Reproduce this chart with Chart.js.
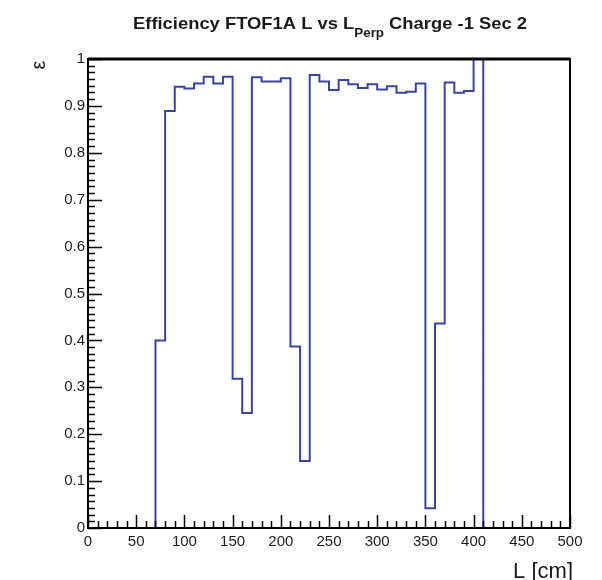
<!DOCTYPE html>
<html>
<head>
<meta charset="utf-8">
<script src="https://cdn.jsdelivr.net/npm/chart.js@4/dist/chart.umd.min.js"></script>
<style>
  html, body { margin: 0; padding: 0; background: #fff; }
  #wrap { width: 602px; height: 580px; position: relative; }
</style>
</head>
<body>
<div id="wrap"><canvas id="effChart"></canvas></div>
<script>
// histogram bin low edges (cm), last entry is the upper edge of the last bin
const binEdges = [
  0, 10, 20, 30, 40, 50, 60, 70, 80, 90,
  100, 110, 120, 130, 140, 150, 160, 170, 180, 190,
  200, 210, 220, 230, 240, 250, 260, 270, 280, 290,
  300, 310, 320, 330, 340, 350, 360, 370, 380, 390,
  400, 410, 420, 430, 440, 450, 460, 470, 480, 490,
  500
];

// efficiency per bin
const efficiency = [
  0, 0, 0, 0, 0, 0, 0, 0.400, 0.889, 0.941,
  0.937, 0.948, 0.962, 0.948, 0.962, 0.318, 0.245, 0.961, 0.952, 0.952,
  0.959, 0.387, 0.143, 0.966, 0.952, 0.934, 0.955, 0.946, 0.938, 0.946,
  0.935, 0.942, 0.928, 0.930, 0.948, 0.042, 0.436, 0.950, 0.928, 0.932,
  1.000, 0, 0, 0, 0, 0, 0, 0, 0, 0
];

const xTickValues = [0, 50, 100, 150, 200, 250, 300, 350, 400, 450, 500];
const xTickLabels = ["0", "50", "100", "150", "200", "250", "300", "350", "400", "450", "500"];
const yTickValues = [0, 0.1, 0.2, 0.3, 0.4, 0.5, 0.6, 0.7, 0.8, 0.9, 1];
const yTickLabels = ["0", "0.1", "0.2", "0.3", "0.4", "0.5", "0.6", "0.7", "0.8", "0.9", "1"];

const lineColor = "#3a43a0";
const textColor = "#1a1a1a";
const fontFamily = "'Liberation Sans', Arial, sans-serif";

const points = efficiency.map((v, i) => ({ x: binEdges[i], y: v }));
points.push({ x: binEdges[binEdges.length - 1], y: efficiency[efficiency.length - 1] });

// ROOT-like frame: ticks inside the frame, labels, titles
const rootFrame = {
  id: "rootFrame",
  afterDraw(chart) {
    const { ctx, chartArea: area, scales } = chart;
    const xs = scales.x;
    const ys = scales.y;
    ctx.save();

    ctx.strokeStyle = "#000";
    ctx.lineWidth = 1.5;
    ctx.beginPath();
    // x ticks: major every 50, minor every 10
    for (let v = xs.min; v <= xs.max; v += 10) {
      const px = Math.round(xs.getPixelForValue(v)) + 0.5;
      const len = v % 50 === 0 ? 13 : 7;
      ctx.moveTo(px, area.bottom);
      ctx.lineTo(px, area.bottom - len);
    }
    // y ticks: major every 0.1, minor subdivisions
    const ySub = 7;
    for (let i = 0; i <= 10 * ySub; i++) {
      const v = i / (10 * ySub);
      const py = Math.round(ys.getPixelForValue(v)) + 0.5;
      const len = i % ySub === 0 ? 14 : 7;
      ctx.moveTo(area.left, py);
      ctx.lineTo(area.left + len, py);
    }
    ctx.stroke();

    ctx.lineWidth = 2;
    ctx.strokeRect(area.left, area.top, area.right - area.left, area.bottom - area.top);
    ctx.lineWidth = 3;
    ctx.beginPath();
    ctx.moveTo(area.left, area.top);
    ctx.lineTo(area.right, area.top);
    ctx.stroke();

    ctx.fillStyle = textColor;
    ctx.font = "15px " + fontFamily;
    ctx.textAlign = "center";
    ctx.textBaseline = "top";
    xTickValues.forEach((v, i) => {
      ctx.fillText(xTickLabels[i], xs.getPixelForValue(v), area.bottom + 6);
    });

    ctx.textAlign = "right";
    ctx.textBaseline = "middle";
    yTickValues.forEach((v, i) => {
      ctx.fillText(yTickLabels[i], area.left - 3, ys.getPixelForValue(v));
    });

    // axis titles
    ctx.font = "22px " + fontFamily;
    ctx.textAlign = "right";
    ctx.textBaseline = "alphabetic";
    ctx.fillText("L [cm]", area.right + 3, 578);

    ctx.save();
    ctx.translate(39, 65);
    ctx.rotate(-Math.PI / 2);
    ctx.font = "20px " + fontFamily;
    ctx.textAlign = "center";
    ctx.textBaseline = "middle";
    ctx.fillText("ε", 0, 0);
    ctx.restore();

    // title with subscript, stretched to the reference width
    const parts = [
      { t: "Efficiency FTOF1A L vs L", size: 16.5, dy: 0 },
      { t: "Perp", size: 12, dy: 8 },
      { t: " Charge -1 Sec 2", size: 16.5, dy: 0 }
    ];
    let total = 0;
    parts.forEach(p => {
      ctx.font = "bold " + p.size + "px " + fontFamily;
      p.w = ctx.measureText(p.t).width;
      total += p.w;
    });
    const k = 394 / total;
    ctx.save();
    ctx.translate(133, 29);
    ctx.scale(k, 1);
    ctx.textAlign = "left";
    let tx = 0;
    parts.forEach(p => {
      ctx.font = "bold " + p.size + "px " + fontFamily;
      ctx.fillText(p.t, tx, p.dy);
      tx += p.w;
    });
    ctx.restore();

    ctx.restore();
  }
};

new Chart(document.getElementById("effChart"), {
  type: "line",
  data: {
    datasets: [{
      data: points,
      stepped: "before",
      borderColor: lineColor,
      borderWidth: 2,
      pointRadius: 0,
      fill: false
    }]
  },
  options: {
    animation: false,
    responsive: true,
    maintainAspectRatio: false,
    devicePixelRatio: 1,
    layout: { padding: { left: 88, right: 32, top: 59, bottom: 52 } },
    scales: {
      x: { type: "linear", min: 0, max: 500, display: false },
      y: { type: "linear", min: 0, max: 1, display: false }
    },
    plugins: {
      legend: { display: false },
      tooltip: { enabled: false }
    }
  },
  plugins: [rootFrame]
});
</script>
</body>
</html>
